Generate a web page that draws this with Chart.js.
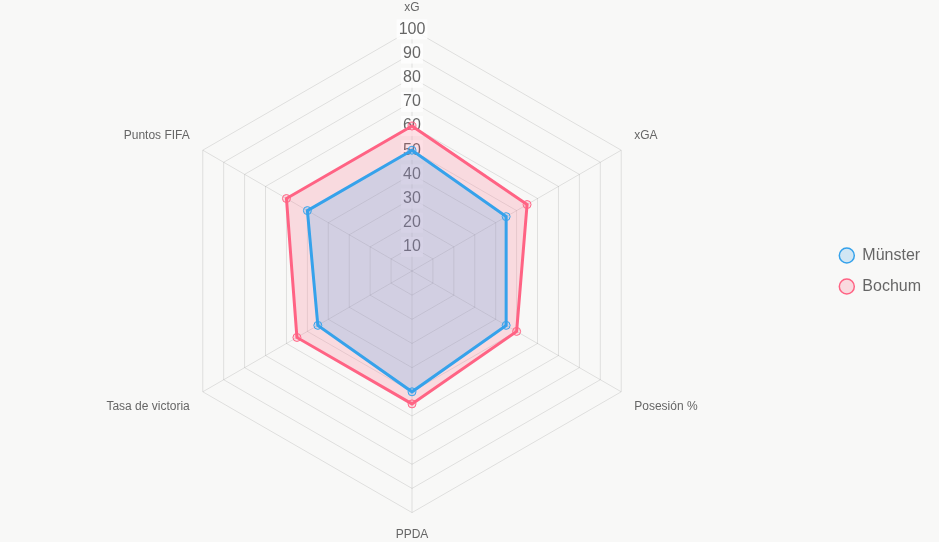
<!DOCTYPE html>
<html><head><meta charset="utf-8">
<script src="https://cdn.jsdelivr.net/npm/chart.js@4"></script>
<style>
html,body{margin:0;padding:0;background:#f8f8f7;}
#wrap{width:939px;height:542px;}
</style></head>
<body><div id="wrap"><canvas id="c"></canvas></div>
<script>
const categories = ["xG", "xGA", "Posesión %", "PPDA", "Tasa de victoria", "Puntos FIFA"];
const munsterValues = [50, 45, 45, 50, 45, 50];
const bochumValues = [60, 55, 50, 55, 55, 60];
const seriesNames = ["Münster", "Bochum"];

new Chart(document.getElementById('c'), {
  type: 'radar',
  data: {
    labels: categories,
    datasets: [
      {label: seriesNames[0], data: munsterValues, borderColor: 'rgb(54,162,235)', backgroundColor: 'rgba(54,162,235,0.2)', borderWidth: 3, pointRadius: 4, pointBorderWidth: 1, pointBackgroundColor: 'rgba(54,162,235,0.2)', pointBorderColor: 'rgb(54,162,235)'},
      {label: seriesNames[1], data: bochumValues, borderColor: 'rgb(255,99,132)', backgroundColor: 'rgba(255,99,132,0.2)', borderWidth: 3, pointRadius: 4, pointBorderWidth: 1, pointBackgroundColor: 'rgba(255,99,132,0.2)', pointBorderColor: 'rgb(255,99,132)'}
    ]
  },
  options: {
    responsive: true,
    maintainAspectRatio: false,
    animation: false,
    layout: {padding: {right: 8}},
    plugins: {
      legend: {
        position: 'right',
        labels: {
          usePointStyle: true, boxHeight: 10.6, pointStyleWidth: 15, padding: 15, font: {size: 16}, color: '#666',
          generateLabels: (chart) => Chart.defaults.plugins.legend.labels.generateLabels(chart).map(l => Object.assign(l, {lineWidth: 1.5}))
        }
      },
      tooltip: {enabled: false}
    },
    scales: {
      r: {
        min: 0, max: 100,
        ticks: {stepSize: 10, font: {size: 16}, color: '#666'},
        pointLabels: {font: {size: 12}, color: '#666'}
      }
    }
  }
});
</script></body></html>
